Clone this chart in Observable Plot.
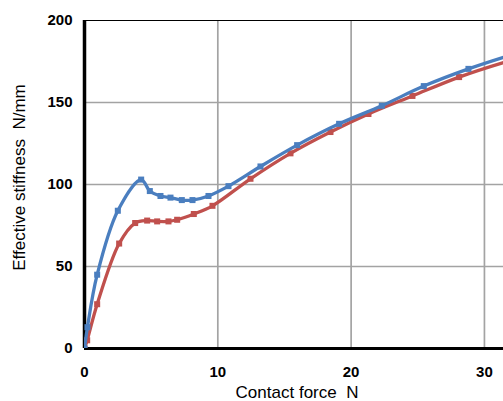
<!DOCTYPE html>
<html>
<head>
<meta charset="utf-8">
<script src="https://cdn.jsdelivr.net/npm/d3@7"></script>
<script src="https://cdn.jsdelivr.net/npm/@observablehq/plot@0.6"></script>
<style>
  html, body { margin: 0; padding: 0; background: #fff; overflow: hidden; }
</style>
</head>
<body>
<div id="chart"></div>
<script>
const xTicks = [0, 10, 20, 30];
const yTicks = [0, 50, 100, 150, 200];

const blueX = [0, 0.22, 0.95, 2.5, 4.25, 4.9, 5.7, 6.45, 7.3, 8.1, 9.3, 10.8, 13.2, 15.95, 19.1, 22.3, 25.45, 28.8, 32.0];
const blueY = [0, 13, 45, 84, 103, 96, 93, 92, 90.5, 90.5, 93, 99, 111, 124, 137, 148, 160, 170.5, 179];

const redX = [0, 0.2, 0.95, 2.6, 3.8, 4.7, 5.45, 6.3, 6.95, 8.2, 9.6, 12.45, 15.45, 18.45, 21.3, 24.6, 28.1, 31.7];
const redY = [0, 5, 27, 64, 76.5, 78, 77.5, 77.5, 78.5, 82, 87, 103.5, 119, 132, 143, 154, 165.5, 175];

const xLabel = "Contact force\u00a0\u00a0N";
const yLabel = "Effective stiffness\u00a0\u00a0N/mm";

const blue = blueX.map((x, i) => ({x, y: blueY[i]}));
const red = redX.map((x, i) => ({x, y: redY[i]}));

const BLUE = "#4a7ebf";
const RED = "#c0504d";
const FONT = "'Liberation Sans', Arial, sans-serif";

const chart = Plot.plot({
  width: 503,
  height: 401,
  marginLeft: 84,
  marginRight: 0,
  marginTop: 20,
  marginBottom: 53,
  style: {fontFamily: FONT, background: "#fff", overflow: "visible"},
  x: {domain: [0, 31.43], ticks: xTicks},
  y: {domain: [0, 200], ticks: yTicks},
  marks: [
    Plot.gridX(xTicks.slice(1), {stroke: "#a3a3a3", strokeOpacity: 1, strokeWidth: 1.7}),
    Plot.gridY(yTicks.slice(1, -1), {stroke: "#a3a3a3", strokeOpacity: 1, strokeWidth: 1.7}),
    Plot.ruleY([200], {stroke: "#000", strokeWidth: 1.2}),
    Plot.ruleY([0], {stroke: "#000", strokeWidth: 3}),
    Plot.ruleX([0], {stroke: "#000", strokeWidth: 3.5}),
    Plot.axisX({ticks: xTicks, tickSize: 0, tickPadding: 18, fontSize: 15, fontWeight: "bold", fill: "#000", label: null}),
    Plot.axisY({ticks: yTicks, tickSize: 0, tickPadding: 12, fontSize: 15, fontWeight: "bold", fill: "#000", label: null}),
    Plot.line(red, {x: "x", y: "y", stroke: RED, strokeWidth: 3.3, curve: "catmull-rom", clip: true}),
    Plot.dot(red, {x: "x", y: "y", symbol: "square", r: 3.4, fill: RED, stroke: "none", clip: true}),
    Plot.line(blue, {x: "x", y: "y", stroke: BLUE, strokeWidth: 3.3, curve: "catmull-rom", clip: true}),
    Plot.dot(blue, {x: "x", y: "y", symbol: "square", r: 3.4, fill: BLUE, stroke: "none", clip: true}),
    Plot.text([xLabel], {frameAnchor: "bottom", textAnchor: "middle", dx: 3, dy: 44, lineAnchor: "middle", fontSize: 17, fill: "#000"}),
    Plot.text([yLabel], {frameAnchor: "left", textAnchor: "middle", rotate: -90, dx: -65, dy: -7, lineAnchor: "middle", fontSize: 17, fill: "#000"})
  ]
});
document.getElementById("chart").appendChild(chart);
</script>
</body>
</html>
